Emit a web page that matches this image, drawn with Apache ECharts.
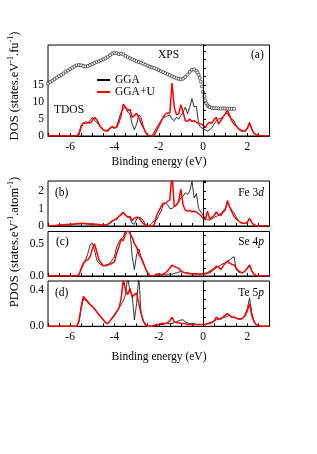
<!DOCTYPE html>
<html><head><meta charset="utf-8">
<script src="https://cdn.jsdelivr.net/npm/echarts@6/dist/echarts.min.js"></script>
<style>html,body{margin:0;padding:0;background:#fff}#c{width:317px;height:454px}</style>
</head><body><div id="c"></div>
<script>
// Energy grid (eV) shared by all DOS curves
const energy = [-7.0,-6.5,
 -6.0,-5.9,-5.8,-5.7,-5.6,-5.5,-5.4,-5.3,-5.2,-5.1,
 -5.0,-4.9,-4.8,-4.7,-4.6,-4.5,-4.4,-4.3,-4.2,-4.1,
 -4.0,-3.9,-3.8,-3.7,-3.6,-3.5,-3.4,-3.3,-3.2,-3.1,
 -3.0,-2.9,-2.8,-2.7,-2.6,-2.5,-2.4,-2.3,-2.2,-2.1,
 -2.0,-1.9,-1.8,-1.7,-1.6,-1.5,-1.4,-1.3,-1.2,-1.1,
 -1.0,-0.9,-0.8,-0.7,-0.6,-0.5,-0.4,-0.3,-0.2,-0.1,
 0.0,0.1,0.2,0.3,0.4,0.5,0.6,0.7,0.8,0.9,
 1.0,1.1,1.2,1.3,1.4,1.5,1.6,1.7,1.8,1.9,
 2.0,2.1,2.2,2.3,2.4,2.5,2.6,2.7,2.8,2.9,
 3.0];

const tdosGGA = [0,0,
 0,0,0,0,0.3,2.5,3.8,4.2,4.0,4.5,
 5.5,4.6,4.0,3.2,2.5,1.9,1.6,1.8,2.5,2.6,
 2.2,3.0,5.0,7.0,8.0,8.5,7.0,6.5,3.5,1.8,
 3.5,6.2,5.5,3.0,1.0,0.2,0,0.1,1.2,2.5,
 3.5,4.5,5.5,5.6,6.0,6.2,5.0,4.5,5.5,5.0,
 6.0,7.0,8.5,6.5,8.5,11.0,8.5,8.8,3.5,2.5,
 2.2,1.8,1.5,1.8,2.5,3.5,4.5,5.0,5.2,5.5,
 6.5,6.8,5.5,5.0,4.5,3.0,2.0,1.5,1.3,1.5,
 2.5,4.0,2.0,0.8,0.4,0.2,0.05,0,0,0,
 0];
const tdosGGAU = [0,0,
 0,0,0,0.05,0.8,3.0,3.8,3.7,4.0,3.8,
 4.5,5.5,4.8,3.5,2.5,1.8,1.5,1.5,2.2,2.8,
 2.4,2.5,4.0,6.0,9.4,8.5,7.5,7.8,5.5,6.0,
 6.7,5.5,3.8,2.5,1.2,0.3,0.05,0,0.3,1.5,
 2.8,4.2,5.5,6.5,6.8,6.8,15.6,8.5,6.3,6.5,
 9.2,7.0,4.5,4.3,5.0,4.3,4.5,4.0,3.8,3.5,
 3.2,2.5,3.5,4.0,3.8,4.8,5.5,3.5,4.5,5.5,
 6.5,7.6,6.0,4.5,3.5,3.0,2.2,1.8,1.5,1.4,
 2.2,3.8,2.0,0.8,0.4,0.2,0.1,0,0,0,
 0];
// XPS spectrum
const xpsEnergy = [-7.0,-6.9,-6.8,-6.7,-6.6,-6.5,-6.4,-6.3,-6.2,-6.1,
 -6.0,-5.9,-5.8,-5.7,-5.6,-5.5,-5.4,-5.3,-5.2,-5.1,
 -5.0,-4.9,-4.8,-4.7,-4.6,-4.5,-4.4,-4.3,-4.2,-4.1,
 -4.0,-3.9,-3.8,-3.7,-3.6,-3.5,-3.4,-3.3,-3.2,-3.1,
 -3.0,-2.9,-2.8,-2.7,-2.6,-2.5,-2.4,-2.3,-2.2,-2.1,
 -2.0,-1.9,-1.8,-1.7,-1.6,-1.5,-1.4,-1.3,-1.2,-1.1,
 -1.0,-0.9,-0.8,-0.7,-0.6,-0.5,-0.4,-0.3,-0.25,-0.2,-0.15,-0.1,-0.05,
 0.0,0.05,0.1,0.15,0.2,0.25,0.3,0.4,0.5,0.6,0.7,0.8,0.9,
 1.0,1.1,1.2,1.3,1.4];
const xpsValues = [15.5,15.9,16.3,16.8,17.2,17.6,18.0,18.4,18.9,19.3,
 19.7,20.1,20.5,20.8,20.9,20.8,20.6,20.5,20.6,20.9,
 21.2,21.5,21.8,22.0,22.3,22.6,22.9,23.3,23.8,24.3,
 24.5,24.4,24.1,24.3,24.0,23.6,23.2,22.9,22.6,22.3,
 22.0,21.8,21.6,21.3,21.0,20.7,20.4,20.2,20.0,19.7,
 19.4,19.1,18.8,18.5,18.2,17.9,17.6,17.3,17.0,16.8,
 16.7,16.9,17.4,18.1,18.9,19.5,19.6,19.2,18.7,18.0,17.1,16.0,14.6,
 13.0,11.7,10.5,9.6,9.0,8.7,8.5,8.3,8.2,8.2,8.1,8.1,8.1,
 8.1,8.0,8.0,8.0,8.0];

const fe3dGGA = [0,0.05,
 0.08,0.1,0.1,0.12,0.12,0.13,0.13,0.12,0.1,0.1,
 0.1,0.09,0.08,0.07,0.06,0.05,0.05,0.08,0.15,0.25,
 0.35,0.45,0.55,0.7,0.8,0.6,0.55,0.45,0.15,0.1,
 0.4,0.5,0.45,0.3,0.1,0.02,0.05,0.2,0.3,0.35,
 0.6,0.85,1.2,1.3,1.2,1.0,1.0,1.1,1.2,1.4,
 1.6,1.7,1.9,1.8,2.0,2.55,1.6,1.85,1.0,0.8,
 0.6,0.45,0.35,0.35,0.4,0.5,0.55,0.6,0.7,0.85,
 1.0,1.3,1.1,0.9,0.75,0.5,0.3,0.2,0.15,0.15,
 0.25,0.4,0.2,0.08,0.03,0.01,0,0,0,0,
 0];
const fe3dGGAU = [0,0.05,
 0.1,0.1,0.12,0.13,0.14,0.15,0.15,0.14,0.13,0.12,
 0.12,0.1,0.1,0.08,0.06,0.05,0.05,0.1,0.2,0.3,
 0.35,0.4,0.55,0.65,0.78,0.6,0.5,0.55,0.3,0.45,
 0.5,0.48,0.3,0.15,0.05,0.01,0,0,0.1,0.6,
 0.85,1.1,1.3,1.3,1.4,1.5,3.0,1.1,1.2,1.4,
 2.1,1.2,0.9,0.85,0.9,0.8,0.85,0.8,0.7,0.6,
 0.45,0.35,0.85,0.4,0.5,0.6,0.8,0.65,0.6,0.8,
 0.9,1.45,1.1,0.8,0.55,0.4,0.3,0.2,0.15,0.15,
 0.2,0.44,0.2,0.05,0.02,0.01,0,0,0,0,
 0];
const se4pGGA = [0,0,
 0,0,0,0,0.03,0.1,0.18,0.25,0.35,0.48,
 0.51,0.4,0.25,0.2,0.17,0.16,0.17,0.18,0.2,0.25,
 0.3,0.45,0.53,0.58,0.6,0.72,0.75,0.72,0.3,0.1,
 0.33,0.42,0.3,0.22,0.12,0.04,0.01,0,0,0.01,
 0.02,0.02,0.02,0.02,0.03,0.03,0.03,0.04,0.05,0.06,
 0.07,0.06,0.05,0.05,0.04,0.04,0.04,0.03,0.03,0.03,
 0.03,0.03,0.04,0.05,0.07,0.1,0.13,0.15,0.17,0.19,
 0.2,0.23,0.25,0.28,0.3,0.1,0.06,0.05,0.05,0.08,
 0.12,0.15,0.08,0.03,0.01,0,0,0,0,0,
 0];
const se4pGGAU = [0,0,
 0,0,0,0,0.02,0.12,0.2,0.24,0.25,0.3,
 0.42,0.5,0.38,0.25,0.2,0.16,0.16,0.17,0.18,0.2,
 0.22,0.35,0.45,0.57,0.55,0.65,0.72,0.66,0.6,0.5,
 0.45,0.33,0.28,0.2,0.12,0.05,0.01,0,0.01,0.03,
 0.03,0.02,0.03,0.05,0.08,0.12,0.17,0.15,0.13,0.12,
 0.08,0.06,0.05,0.04,0.04,0.03,0.03,0.03,0.03,0.03,
 0.03,0.04,0.05,0.07,0.09,0.12,0.15,0.14,0.1,0.15,
 0.2,0.23,0.2,0.18,0.17,0.12,0.08,0.06,0.05,0.08,
 0.12,0.17,0.08,0.03,0.01,0,0,0,0,0,
 0];
const te5pGGA = [0,0,
 0,0,0,0,0.05,0.2,0.3,0.29,0.26,0.24,
 0.22,0.19,0.16,0.13,0.1,0.07,0.04,0.03,0.06,0.1,
 0.13,0.17,0.2,0.24,0.28,0.35,0.55,0.38,0.35,0.07,
 0.25,0.55,0.15,0.06,0.01,0,0,0,0.01,0.01,
 0.02,0.02,0.02,0.03,0.03,0.03,0.03,0.04,0.05,0.06,
 0.07,0.07,0.05,0.04,0.03,0.03,0.03,0.02,0.02,0.02,
 0.02,0.02,0.03,0.04,0.05,0.06,0.07,0.08,0.09,0.1,
 0.1,0.11,0.12,0.1,0.1,0.09,0.08,0.08,0.09,0.13,
 0.2,0.31,0.15,0.06,0.02,0.01,0,0,0,0,
 0];
const te5pGGAU = [0,0,
 0,0,0,0,0.06,0.22,0.33,0.3,0.27,0.24,
 0.22,0.19,0.16,0.13,0.1,0.07,0.04,0.03,0.06,0.09,
 0.12,0.16,0.2,0.3,0.52,0.4,0.35,0.42,0.32,0.35,
 0.37,0.25,0.14,0.06,0.02,0,0,0,0.01,0.02,
 0.02,0.03,0.03,0.03,0.04,0.06,0.1,0.05,0.04,0.04,
 0.03,0.03,0.03,0.02,0.02,0.02,0.02,0.02,0.02,0.02,
 0.02,0.02,0.03,0.03,0.04,0.06,0.1,0.08,0.08,0.1,
 0.12,0.14,0.12,0.1,0.1,0.09,0.08,0.08,0.09,0.12,
 0.17,0.25,0.12,0.05,0.02,0.01,0,0,0,0,
 0];

const xTickLabels = [-6,-4,-2,0,2];
const seriesNames = ['GGA','GGA+U'];

const FONT = 'Liberation Serif';
const chart = echarts.init(document.getElementById('c'), null, {renderer:'canvas'});
const pair = (xs, ys) => xs.map((x,i)=>[x, ys[i]]);

const gridTops = [45, 181, 231.5, 281];
const gridHeights = [91, 45, 44.5, 45.3];
const grids = gridTops.map((t,i)=>({left:48, top:t, width:221.5, height:gridHeights[i],
  show:true, borderColor:'#000', borderWidth:1, backgroundColor:'transparent'}));

const xAxes = [0,1,2,3].map(i=>({
  type:'value', gridIndex:i, min:-7, max:3, interval:0.5,
  axisLine:{show:true, lineStyle:{color:'#000', width:1}},
  axisTick:{show:true, inside:true, length:3, lineStyle:{color:'#000'}},
  splitLine:{show:false},
  axisLabel:{show:(i===0||i===3), margin:5, color:'#000', fontFamily:FONT, fontSize:11.5,
    formatter:v=> xTickLabels.some(t=>Math.abs(t-v)<1e-9) ? String(Math.round(v)) : ''}
}));

const yCommon = {type:'value', min:0,
  axisLine:{show:true, lineStyle:{color:'#000', width:1}},
  axisTick:{show:true, inside:true, length:3, lineStyle:{color:'#000'}},
  splitLine:{show:false}};
const near = (a,b)=>Math.abs(a-b)<1e-9;
const yAxes = [
  Object.assign({}, yCommon, {gridIndex:0, max:26.8, interval:2.5,
    axisLabel:{margin:4, color:'#000', fontFamily:FONT, fontSize:11.5,
      formatter:v=>([0,5,10,15].some(t=>near(t,v)) ? String(Math.round(v)) : '')}}),
  Object.assign({}, yCommon, {gridIndex:1, max:2.57, interval:0.5,
    axisLabel:{margin:4, color:'#000', fontFamily:FONT, fontSize:11.5,
      formatter:v=>([0,1,2].some(t=>near(t,v)) ? String(Math.round(v)) : '')}}),
  Object.assign({}, yCommon, {gridIndex:2, max:0.69, interval:0.125,
    axisLabel:{margin:4, color:'#000', fontFamily:FONT, fontSize:11.5,
      formatter:v=>(near(v,0) ? '0.0' : near(v,0.5) ? '0.5' : '')}}),
  Object.assign({}, yCommon, {gridIndex:3, max:0.5, interval:0.1,
    axisLabel:{margin:4, color:'#000', fontFamily:FONT, fontSize:11.5,
      formatter:v=>(near(v,0) ? '0.0' : near(v,0.4) ? '0.4' : '')}})
];

const zeroLine = {silent:true, symbol:['none','none'], label:{show:false},
  lineStyle:{color:'#000', width:1, type:'solid'}, data:[{xAxis:0}], animation:false};

function lineSeries(name, idx, vals, color, width, withZero){
  const s = {name:name, type:'line', xAxisIndex:idx, yAxisIndex:idx, data:pair(energy, vals),
    symbol:'none', showSymbol:false, clip:true, lineStyle:{color:color, width:width}, itemStyle:{color:color},
    z: color==='#000' ? 2 : 3};
  if (withZero) s.markLine = zeroLine;
  return s;
}

const series = [
  {name:'XPS', type:'line', xAxisIndex:0, yAxisIndex:0, data:pair(xpsEnergy, xpsValues),
   symbol:'circle', symbolSize:3.1, showSymbol:true, lineStyle:{width:0, opacity:0},
   itemStyle:{color:'#fff', borderColor:'#000', borderWidth:0.6}, z:1},
  lineSeries(seriesNames[0], 0, tdosGGA, '#000', 0.8, true),
  lineSeries(seriesNames[1], 0, tdosGGAU, '#f00', 1.5, false),
  lineSeries(seriesNames[0], 1, fe3dGGA, '#000', 0.8, true),
  lineSeries(seriesNames[1], 1, fe3dGGAU, '#f00', 1.5, false),
  lineSeries(seriesNames[0], 2, se4pGGA, '#000', 0.8, true),
  lineSeries(seriesNames[1], 2, se4pGGAU, '#f00', 1.5, false),
  lineSeries(seriesNames[0], 3, te5pGGA, '#000', 0.8, true),
  lineSeries(seriesNames[1], 3, te5pGGAU, '#f00', 1.5, false)
];

function txt(x, y, text, opts){
  return Object.assign({type:'text', x:x, y:y, silent:true, z:10,
    style:Object.assign({text:text, fill:'#000', font:'11.5px "'+FONT+'"', align:'left', verticalAlign:'middle'}, opts||{})});
}
const rich = {
  n:{fontFamily:FONT, fontSize:12.5, lineHeight:16, color:'#000'},
  s:{fontFamily:FONT, fontSize:8, lineHeight:8, verticalAlign:'top', color:'#000'},
  m:{fontFamily:FONT, fontSize:11.5, color:'#000'},
  i:{fontFamily:FONT, fontSize:11.5, fontStyle:'italic', color:'#000'}
};

const graphic = [
  txt(158, 55, 'XPS'),
  txt(251, 55, '(a)'),
  txt(54, 110, 'TDOS'),
  txt(55, 193, '(b)'),
  txt(56, 242, '(c)'),
  txt(55, 293, '(d)'),
  {type:'text', x:264, y:193, silent:true, z:10, style:{text:'{m|Fe 3}{i|d}', rich:rich, align:'right', verticalAlign:'middle'}},
  {type:'text', x:264, y:242, silent:true, z:10, style:{text:'{m|Se 4}{i|p}', rich:rich, align:'right', verticalAlign:'middle'}},
  {type:'text', x:264, y:293, silent:true, z:10, style:{text:'{m|Te 5}{i|p}', rich:rich, align:'right', verticalAlign:'middle'}},
  txt(159, 162, 'Binding energy (eV)', {align:'center'}),
  txt(159, 357, 'Binding energy (eV)', {align:'center'}),
  {type:'text', x:15, y:86, rotation:Math.PI/2, silent:true, z:10,
   style:{text:'{n|DOS (states.eV}{s|-1}{n|.fu}{s|-1}{n|)}', rich:rich, align:'center', verticalAlign:'middle'}},
  {type:'text', x:15, y:242, rotation:Math.PI/2, silent:true, z:10,
   style:{text:'{n|PDOS (states.eV}{s|-1}{n|.atom}{s|-1}{n|)}', rich:rich, align:'center', verticalAlign:'middle'}}
];

chart.setOption({
  animation:false,
  backgroundColor:'#fff',
  grid:grids, xAxis:xAxes, yAxis:yAxes, series:series, graphic:graphic,
  legend:{data:seriesNames, orient:'vertical', left:96, top:74, padding:0,
    itemWidth:13, itemHeight:4, itemGap:0, selectedMode:false,
    itemStyle:{opacity:0, borderWidth:0},
    textStyle:{fontFamily:FONT, fontSize:11.5, lineHeight:11, color:'#000'}}
});
</script></body></html>
